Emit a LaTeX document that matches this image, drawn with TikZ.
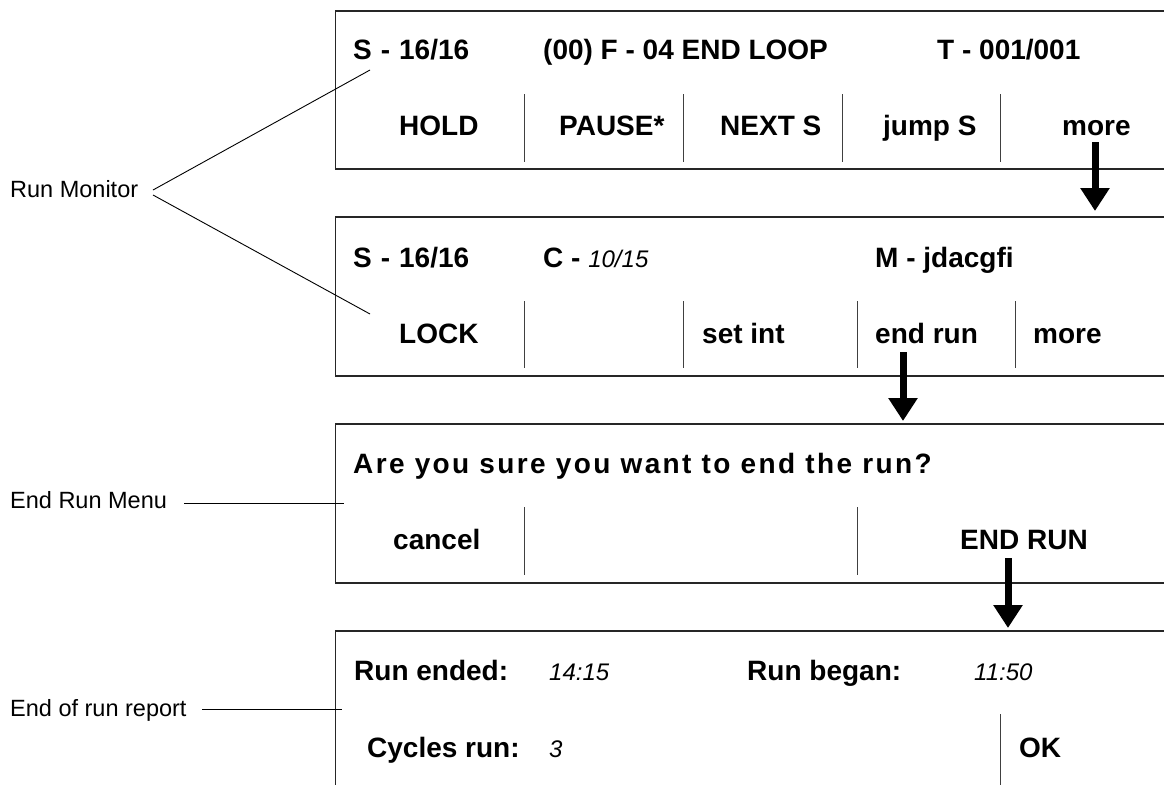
\documentclass[tikz,border=0pt]{standalone}
\usepackage{fontspec}
\setmainfont{Liberation Sans}
\usetikzlibrary{arrows.meta}
\begin{document}
\begin{tikzpicture}[x=1pt,y=-1pt,
  frame/.style={draw=black!85,line width=1.2pt},
  divider/.style={draw=black!75,line width=0.9pt},
  key/.style={anchor=base west,inner sep=0pt,font=\fontsize{28}{30}\selectfont\bfseries},
  val/.style={anchor=base west,inner sep=0pt,font=\fontsize{24}{26}\selectfont\itshape},
  tag/.style={anchor=base west,inner sep=0pt,font=\fontsize{23.5}{26}\selectfont},
  leader/.style={draw=black,line width=0.9pt},
  flow/.style={draw=black,line width=7pt,-{Triangle[length=23pt,width=28pt]}}
]
\useasboundingbox (0,0) rectangle (1164,785);

% screen frames, open to the right
\draw[frame] (1164,11) -- (335.5,11) -- (335.5,169) -- (1164,169);
\draw[frame] (1164,217) -- (335.5,217) -- (335.5,376) -- (1164,376);
\draw[frame] (1164,424) -- (335.5,424) -- (335.5,583) -- (1164,583);
\draw[frame] (1164,631) -- (335.5,631) -- (335.5,785);

% soft-key separators
\foreach \x in {524,683,842,1000} \draw[divider] (\x,94) -- (\x,162);
\foreach \x in {524,683,857,1015} \draw[divider] (\x,301) -- (\x,368);
\foreach \x in {524,857} \draw[divider] (\x,507) -- (\x,575);
\draw[divider] (1000,714) -- (1000,785);

% run monitor, page 1
\node[key] (s1) at (353,59) {S\hspace{0.32em}-\hspace{0.32em}16/16};
\node[key] (fn) at (543,59) {(00) F - 04 END LOOP};
\node[key] (tm) at (937,59) {T - 001/001};
\node[key] (hold) at (399,135) {HOLD};
\node[key] (pause) at (559,135) {PAUSE*};
\node[key] (next) at (720,135) {NEXT S};
\node[key] (jump) at (883,135) {jump S};
\node[key] (more1) at (1062,135) {more};

% run monitor, page 2
\node[key] (s2) at (353,267) {S\hspace{0.32em}-\hspace{0.32em}16/16};
\node[key] (cyc) at (543,267) {C - {\fontsize{24}{26}\selectfont\mdseries\itshape 10/15}};
\node[key] (meth) at (875,267) {M - jdacgfi};
\node[key] (lock) at (399,343) {LOCK};
\node[key] (setint) at (702,343) {set int};
\node[key] (endrun) at (875,343) {end run};
\node[key] (more2) at (1033,343) {more};

% end run menu
\node[key,font=\fontsize{28}{30}\selectfont\bfseries\addfontfeature{LetterSpace=8.5}] (ask) at (353,473) {Are you sure you want to end the run?};
\node[key] (cancel) at (393,549) {cancel};
\node[key] (ENDRUN) at (960,549) {END RUN};

% end of run report
\node[key] (ended) at (354,680) {Run ended:};
\node[val] (endedv) at (549,680) {14:15};
\node[key] (began) at (747,680) {Run began:};
\node[val] (beganv) at (974,680) {11:50};
\node[key] (cycles) at (367,757) {Cycles run:};
\node[val] (cyclesv) at (549,757) {3};
\node[key] (ok) at (1019,757) {OK};

% side captions
\node[tag] (lblmon) at (10,197) {Run Monitor};
\node[tag] (lblmenu) at (10,508) {End Run Menu};
\node[tag] (lblrep) at (10,716) {End of run report};

% leader ends
\coordinate (monA) at (153,190);
\coordinate (monB) at (153,195);
\coordinate (monP1) at (370,70);
\coordinate (monP2) at (370,314);
\coordinate (menuA) at (184,503);
\coordinate (menuP) at (344,503);
\coordinate (repA) at (202,709);
\coordinate (repP) at (342,709);

\draw[leader] (monA) -- (monP1);
\draw[leader] (monB) -- (monP2);
\draw[leader] (menuA) -- (menuP);
\draw[leader] (repA) -- (repP);

% transitions between screens
\coordinate (a1s) at (1095,142);
\coordinate (a1e) at (1095,211);
\coordinate (a2s) at (903,352);
\coordinate (a2e) at (903,421);
\coordinate (a3s) at (1008,558);
\coordinate (a3e) at (1008,628);
\draw[flow] (a1s) -- (a1e);
\draw[flow] (a2s) -- (a2e);
\draw[flow] (a3s) -- (a3e);
\end{tikzpicture}
\end{document}
